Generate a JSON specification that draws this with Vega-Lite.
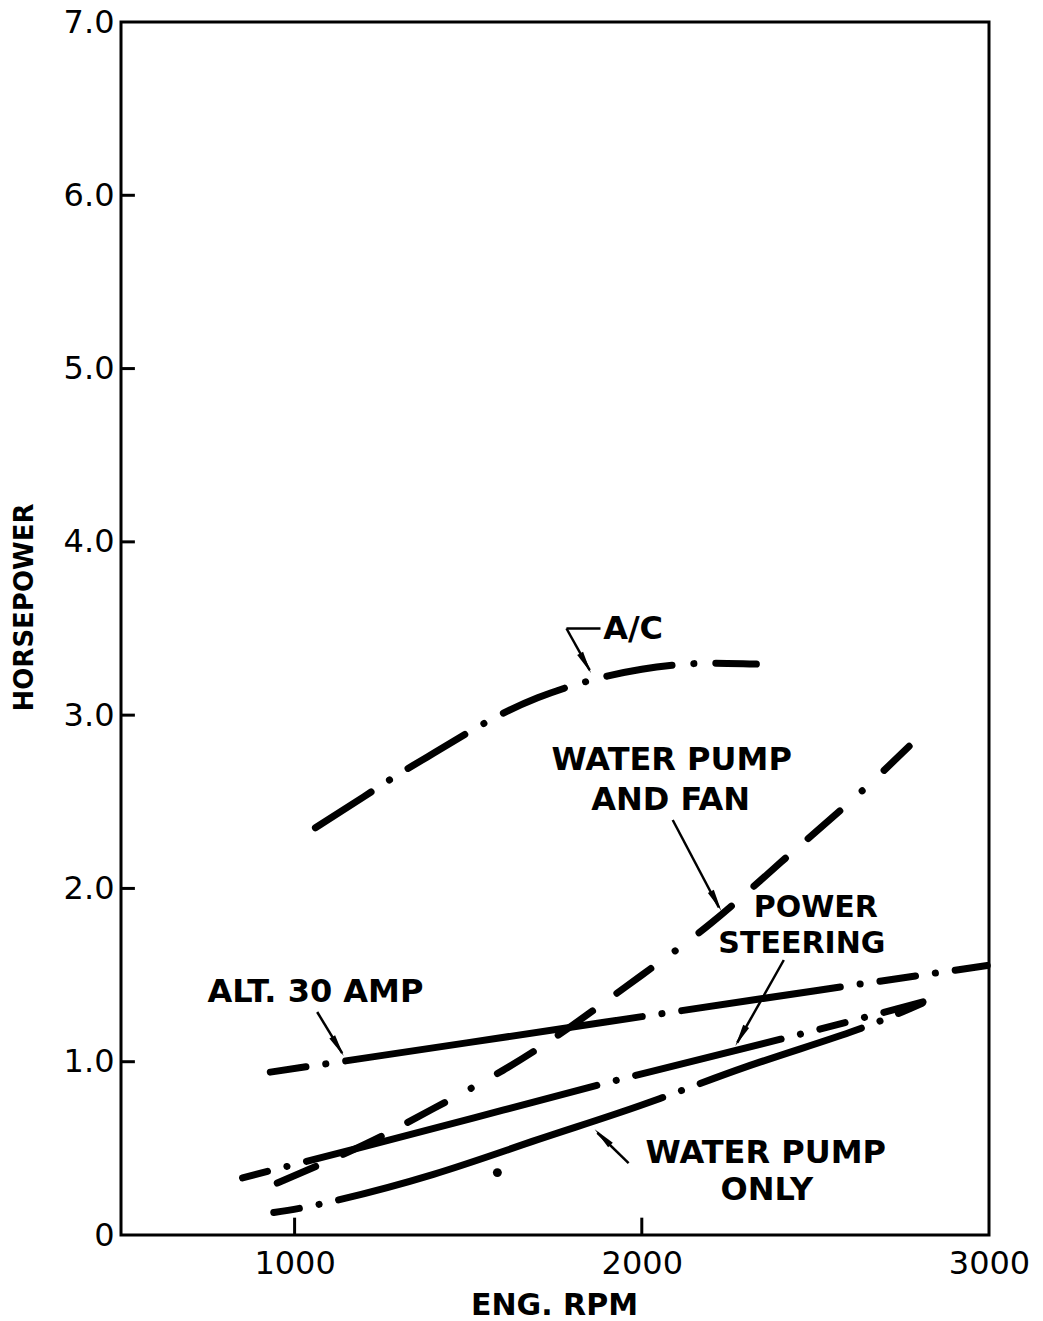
{
  "$schema": "https://vega.github.io/schema/vega-lite/v6.json",
  "autosize": {"type": "none"},
  "padding": {"left": 121, "top": 22, "right": 54, "bottom": 86},
  "width": 868,
  "height": 1213,
  "background": "white",
  "config": {
    "view": {"stroke": "black", "strokeWidth": 3},
    "font": "DejaVu Sans"
  },
  "datasets": {
    "curves": [
      {"series": "A/C", "rpm": 1060, "hp": 2.35},
      {"series": "A/C", "rpm": 1200, "hp": 2.53},
      {"series": "A/C", "rpm": 1300, "hp": 2.66},
      {"series": "A/C", "rpm": 1400, "hp": 2.78},
      {"series": "A/C", "rpm": 1500, "hp": 2.90},
      {"series": "A/C", "rpm": 1600, "hp": 3.01},
      {"series": "A/C", "rpm": 1700, "hp": 3.10},
      {"series": "A/C", "rpm": 1800, "hp": 3.17},
      {"series": "A/C", "rpm": 1900, "hp": 3.225},
      {"series": "A/C", "rpm": 2000, "hp": 3.265},
      {"series": "A/C", "rpm": 2100, "hp": 3.29},
      {"series": "A/C", "rpm": 2200, "hp": 3.30},
      {"series": "A/C", "rpm": 2330, "hp": 3.295},
      {"series": "Water pump and fan", "rpm": 950, "hp": 0.30},
      {"series": "Water pump and fan", "rpm": 1100, "hp": 0.43},
      {"series": "Water pump and fan", "rpm": 1250, "hp": 0.57},
      {"series": "Water pump and fan", "rpm": 1400, "hp": 0.73},
      {"series": "Water pump and fan", "rpm": 1600, "hp": 0.95},
      {"series": "Water pump and fan", "rpm": 1800, "hp": 1.21},
      {"series": "Water pump and fan", "rpm": 2000, "hp": 1.50},
      {"series": "Water pump and fan", "rpm": 2200, "hp": 1.80},
      {"series": "Water pump and fan", "rpm": 2400, "hp": 2.15},
      {"series": "Water pump and fan", "rpm": 2600, "hp": 2.50},
      {"series": "Water pump and fan", "rpm": 2770, "hp": 2.82},
      {"series": "Alt. 30 amp", "rpm": 930, "hp": 0.94},
      {"series": "Alt. 30 amp", "rpm": 1500, "hp": 1.11},
      {"series": "Alt. 30 amp", "rpm": 2000, "hp": 1.26},
      {"series": "Alt. 30 amp", "rpm": 2500, "hp": 1.41},
      {"series": "Alt. 30 amp", "rpm": 2995, "hp": 1.555},
      {"series": "Power steering", "rpm": 850, "hp": 0.33},
      {"series": "Power steering", "rpm": 1200, "hp": 0.51},
      {"series": "Power steering", "rpm": 1600, "hp": 0.72},
      {"series": "Power steering", "rpm": 2000, "hp": 0.93},
      {"series": "Power steering", "rpm": 2400, "hp": 1.13},
      {"series": "Power steering", "rpm": 2810, "hp": 1.345},
      {"series": "Water pump only", "rpm": 940, "hp": 0.13},
      {"series": "Water pump only", "rpm": 1100, "hp": 0.19},
      {"series": "Water pump only", "rpm": 1400, "hp": 0.35},
      {"series": "Water pump only", "rpm": 1700, "hp": 0.55},
      {"series": "Water pump only", "rpm": 2000, "hp": 0.75},
      {"series": "Water pump only", "rpm": 2300, "hp": 0.97},
      {"series": "Water pump only", "rpm": 2600, "hp": 1.17},
      {"series": "Water pump only", "rpm": 2810, "hp": 1.34}
    ],
    "ticks": [
      {"rpm": 500, "rpm2": 540, "hp": 1, "hp2": 1},
      {"rpm": 500, "rpm2": 540, "hp": 2, "hp2": 2},
      {"rpm": 500, "rpm2": 540, "hp": 3, "hp2": 3},
      {"rpm": 500, "rpm2": 540, "hp": 4, "hp2": 4},
      {"rpm": 500, "rpm2": 540, "hp": 5, "hp2": 5},
      {"rpm": 500, "rpm2": 540, "hp": 6, "hp2": 6},
      {"rpm": 1000, "rpm2": 1000, "hp": 0, "hp2": 0.1},
      {"rpm": 2000, "rpm2": 2000, "hp": 0, "hp2": 0.1}
    ],
    "labels": [
      {"text": "A/C", "rpm": 1975, "hp": 3.50, "size": 32},
      {"text": "WATER PUMP", "rpm": 2086, "hp": 2.74, "size": 32},
      {"text": "AND FAN", "rpm": 2083, "hp": 2.51, "size": 32},
      {"text": "POWER", "rpm": 2501, "hp": 1.885, "size": 30},
      {"text": "STEERING", "rpm": 2461, "hp": 1.68, "size": 30},
      {"text": "ALT. 30 AMP", "rpm": 1060, "hp": 1.40, "size": 32},
      {"text": "WATER PUMP", "rpm": 2357, "hp": 0.473, "size": 32},
      {"text": "ONLY", "rpm": 2360, "hp": 0.26, "size": 32}
    ],
    "leaders": [
      {"rpm": 1881, "hp": 3.50, "rpm2": 1783, "hp2": 3.50},
      {"rpm": 1783, "hp": 3.50, "rpm2": 1850, "hp2": 3.26},
      {"rpm": 2089, "hp": 2.395, "rpm2": 2222, "hp2": 1.89},
      {"rpm": 2409, "hp": 1.587, "rpm2": 2275, "hp2": 1.11},
      {"rpm": 1065, "hp": 1.287, "rpm2": 1137, "hp2": 1.05},
      {"rpm": 1962, "hp": 0.415, "rpm2": 1872, "hp2": 0.59}
    ],
    "arrowheads": [
      {"rpm": 1838, "hp": 3.30, "ang": 151},
      {"rpm": 2214, "hp": 1.926, "ang": 152},
      {"rpm": 2285, "hp": 1.147, "ang": 209},
      {"rpm": 1125, "hp": 1.088, "ang": 149},
      {"rpm": 1887, "hp": 0.565, "ang": 315}
    ],
    "spots": [
      {"rpm": 1584, "hp": 0.36}
    ]
  },
  "layer": [
    {
      "data": {"name": "curves"},
      "transform": [{"filter": "datum.series === 'A/C'"}],
      "mark": {"type": "line", "interpolate": "natural", "color": "black", "strokeWidth": 7, "strokeCap": "round", "strokeDash": [66, 22, 0.1, 22]},
      "encoding": {
        "x": {"field": "rpm", "type": "quantitative", "scale": {"domain": [500, 3000], "nice": false},
          "axis": {"values": [1000, 2000, 3000], "format": "d", "title": "ENG. RPM", "domain": false, "ticks": false, "grid": false,
            "labelFlush": false, "labelOverlap": false,
            "labelFont": "DejaVu Sans", "labelFontSize": 32, "labelColor": "black", "labelPadding": 13,
            "titleFont": "DejaVu Sans", "titleFontWeight": "bold", "titleFontSize": 30, "titleColor": "black",
            "titleX": 433, "titleY": 70, "titleBaseline": "middle", "titleAnchor": "middle"}},
        "y": {"field": "hp", "type": "quantitative", "scale": {"domain": [0, 7], "nice": false},
          "axis": {"values": [0, 1, 2, 3, 4, 5, 6, 7], "title": "HORSEPOWER", "domain": false, "ticks": false, "grid": false,
            "labelFlush": false, "labelOverlap": false,
            "labelExpr": "datum.value === 0 ? '0' : format(datum.value, '.1f')",
            "labelFont": "DejaVu Sans", "labelFontSize": 32, "labelColor": "black", "labelPadding": 7,
            "titleFont": "DejaVu Sans", "titleFontWeight": "bold", "titleFontSize": 26, "titleColor": "black",
            "titleX": -97, "titleY": 585, "titleBaseline": "middle", "titleAnchor": "middle"}}
      }
    },
    {
      "data": {"name": "curves"},
      "transform": [{"filter": "datum.series === 'Water pump and fan'"}],
      "mark": {"type": "line", "interpolate": "natural", "color": "black", "strokeWidth": 7, "strokeCap": "round", "strokeDash": [42, 30, 42, 30, 42, 30, 0.1, 30]},
      "encoding": {"x": {"field": "rpm", "type": "quantitative"}, "y": {"field": "hp", "type": "quantitative"}}
    },
    {
      "data": {"name": "curves"},
      "transform": [{"filter": "datum.series === 'Alt. 30 amp'"}],
      "mark": {"type": "line", "interpolate": "natural", "color": "black", "strokeWidth": 7, "strokeCap": "round", "strokeDash": [36, 20, 0.1, 20, 300, 20, 0.1, 20, 160, 20, 0.1, 20]},
      "encoding": {"x": {"field": "rpm", "type": "quantitative"}, "y": {"field": "hp", "type": "quantitative"}}
    },
    {
      "data": {"name": "curves"},
      "transform": [{"filter": "datum.series === 'Power steering'"}],
      "mark": {"type": "line", "interpolate": "natural", "color": "black", "strokeWidth": 7, "strokeCap": "round", "strokeDash": [26, 20, 0.1, 20, 300, 20, 0.1, 20, 150, 20, 0.1, 20]},
      "encoding": {"x": {"field": "rpm", "type": "quantitative"}, "y": {"field": "hp", "type": "quantitative"}}
    },
    {
      "data": {"name": "curves"},
      "transform": [{"filter": "datum.series === 'Water pump only'"}],
      "mark": {"type": "line", "interpolate": "natural", "color": "black", "strokeWidth": 7, "strokeCap": "round", "strokeDash": [26, 20, 0.1, 20, 340, 20, 0.1, 20, 170, 20, 0.1, 20]},
      "encoding": {"x": {"field": "rpm", "type": "quantitative"}, "y": {"field": "hp", "type": "quantitative"}}
    },
    {
      "data": {"name": "spots"},
      "mark": {"type": "point", "filled": true, "color": "black", "size": 80, "opacity": 1},
      "encoding": {"x": {"field": "rpm", "type": "quantitative"}, "y": {"field": "hp", "type": "quantitative"}}
    },
    {
      "data": {"name": "ticks"},
      "mark": {"type": "rule", "color": "black", "strokeWidth": 3},
      "encoding": {
        "x": {"field": "rpm", "type": "quantitative"}, "x2": {"field": "rpm2"},
        "y": {"field": "hp", "type": "quantitative"}, "y2": {"field": "hp2"}
      }
    },
    {
      "data": {"name": "leaders"},
      "mark": {"type": "rule", "color": "black", "strokeWidth": 2.5},
      "encoding": {
        "x": {"field": "rpm", "type": "quantitative"}, "x2": {"field": "rpm2"},
        "y": {"field": "hp", "type": "quantitative"}, "y2": {"field": "hp2"}
      }
    },
    {
      "data": {"name": "arrowheads"},
      "mark": {"type": "point", "filled": true, "color": "black", "opacity": 1, "size": 500, "shape": "M0,-1L0.3,1L-0.3,1Z"},
      "encoding": {
        "x": {"field": "rpm", "type": "quantitative"},
        "y": {"field": "hp", "type": "quantitative"},
        "angle": {"field": "ang", "type": "quantitative", "scale": null}
      }
    },
    {
      "data": {"name": "labels"},
      "mark": {"type": "text", "font": "DejaVu Sans", "fontWeight": "bold", "color": "black", "align": "center", "baseline": "middle"},
      "encoding": {
        "x": {"field": "rpm", "type": "quantitative"},
        "y": {"field": "hp", "type": "quantitative"},
        "text": {"field": "text"},
        "size": {"field": "size", "type": "quantitative", "scale": null}
      }
    }
  ]
}
